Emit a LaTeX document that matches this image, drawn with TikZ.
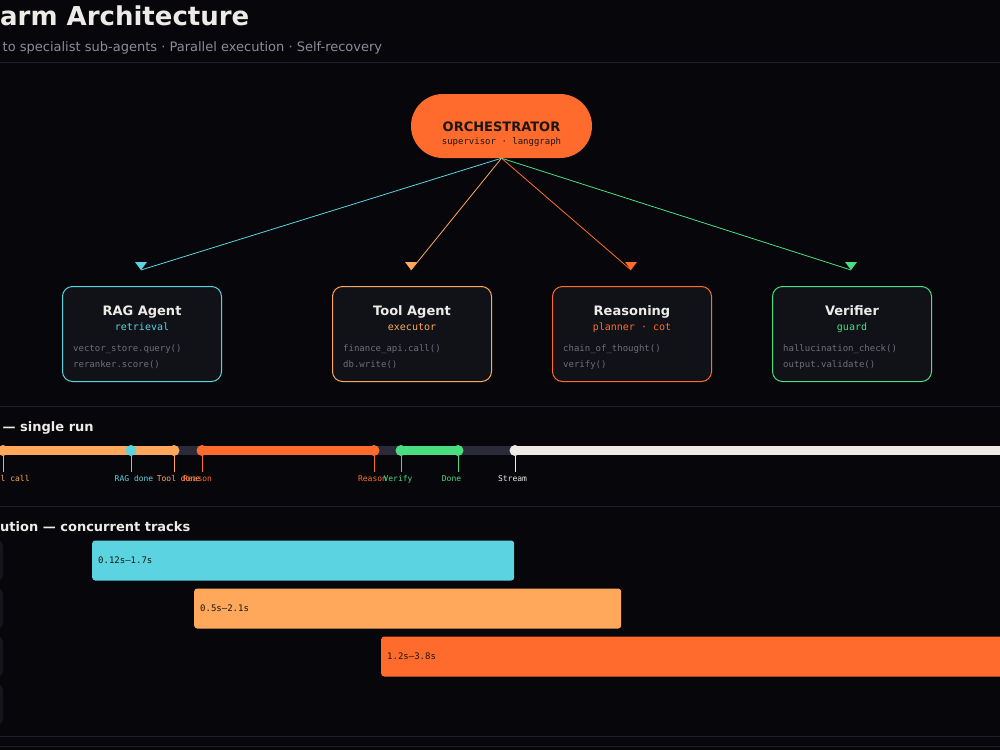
\documentclass[tikz,border=0pt]{standalone}
\usepackage{fontspec}
\setmainfont{DejaVu Sans}
\setmonofont{DejaVu Sans Mono}
\usetikzlibrary{positioning}
\definecolor{bgc}{HTML}{07070B}
\definecolor{sepc}{HTML}{1E1E2A}
\definecolor{titlec}{HTML}{EDEBE6}
\definecolor{subc}{HTML}{8B8B9B}
\definecolor{cyanc}{HTML}{5BD3E0}
\definecolor{peachc}{HTML}{FFA85C}
\definecolor{flamec}{HTML}{FF6B2C}
\definecolor{greenc}{HTML}{4ADE80}
\definecolor{whitec}{HTML}{EEEBE6}
\definecolor{boxc}{HTML}{111218}
\definecolor{codec}{HTML}{6E6E7C}
\definecolor{trackc}{HTML}{2A2A3A}
\definecolor{stubc}{HTML}{15151C}
\definecolor{inkc}{HTML}{1B1612}
\newcommand{\fsz}[1]{\fontsize{#1}{#1}\selectfont}
\tikzset{
	txt/.style={inner sep=0pt, anchor=base},
	headtitle/.style={txt, anchor=base west, text=titlec, font=\bfseries\fsz{26}},
	headsub/.style={txt, anchor=base west, text=subc, font=\fsz{13}},
	seclabel/.style={txt, anchor=base west, text=titlec, font=\bfseries\fsz{13}},
	sepline/.style={draw=sepc, line width=1pt},
	orch/.style={fill=flamec, rounded corners=32pt, minimum width=181pt, minimum height=64pt, inner sep=0pt},
	agent/.style={draw=#1, fill=boxc, line width=1pt, rounded corners=10pt,
		minimum width=159pt, minimum height=95pt, inner sep=0pt},
	agentname/.style={txt, text=titlec, font=\bfseries\fsz{13}},
	agentrole/.style={txt, text=#1, font=\ttfamily\fsz{10}},
	codeline/.style={txt, anchor=base west, text=codec, font=\ttfamily\fsz{9}},
	link/.style={draw=#1, line width=0.8pt},
	seg/.style={draw=#1, line width=9pt},
	dot/.style={circle, fill=#1, minimum size=11pt, inner sep=0pt},
	tick/.style={draw=#1, line width=1pt},
	ticklabel/.style={txt, text=#1, font=\ttfamily\fsz{8}},
	trackbar/.style={fill=#1, rounded corners=3pt, minimum height=40pt, inner sep=0pt, anchor=west},
	tracktime/.style={inner sep=0pt, text=inkc, font=\ttfamily\fsz{9}},
	stub/.style={fill=stubc, rounded corners=5pt}
}
\begin{document}
\begin{tikzpicture}[x=1pt,y=-1pt]
	\fill[bgc] (0,0) rectangle (1000,750);
	\useasboundingbox (0,0) rectangle (1000,750);
	\clip (0,0) rectangle (1000,750);
	% header
	\node[headtitle] (title) at (0,25) {arm Architecture};
	\node[headsub] (subtitle) at (2.5,51) {to specialist sub-agents · Parallel execution · Self-recovery};
	\draw[sepline] (0,62.5) -- (1000,62.5);
	% orchestrator
	\node[orch] (orch) at (501.5,126) {};
	\node[txt, text=inkc, font=\bfseries\fsz{13}] (orchname) at (501.5,131) {ORCHESTRATOR};
	\node[txt, text=inkc, font=\ttfamily\fsz{9}] (orchrole) at (501.5,144) {supervisor · langgraph};
	% agents
	\node[agent=cyanc] (rag) at (142,334) {};
	\node[agentname] (ragname) at (142,315) {RAG Agent};
	\node[agentrole=cyanc] (ragrole) at (142,330) {retrieval};
	\node[codeline] (ragA) at (73,351) {vector\_store.query()};
	\node[codeline] (ragB) at (73,367) {reranker.score()};
	\node[agent=peachc] (tool) at (412,334) {};
	\node[agentname] (toolname) at (412,315) {Tool Agent};
	\node[agentrole=peachc] (toolrole) at (412,330) {executor};
	\node[codeline] (toolA) at (343,351) {finance\_api.call()};
	\node[codeline] (toolB) at (343,367) {db.write()};
	\node[agent=flamec] (reason) at (632,334) {};
	\node[agentname] (reasonname) at (632,315) {Reasoning};
	\node[agentrole=flamec] (reasonrole) at (632,330) {planner · cot};
	\node[codeline] (reasonA) at (563,351) {chain\_of\_thought()};
	\node[codeline] (reasonB) at (563,367) {verify()};
	\node[agent=greenc] (verif) at (852,334) {};
	\node[agentname] (verifname) at (852,315) {Verifier};
	\node[agentrole=greenc] (verifrole) at (852,330) {guard};
	\node[codeline] (verifA) at (783,351) {hallucination\_check()};
	\node[codeline] (verifB) at (783,367) {output.validate()};
	% dispatch links
	\coordinate (ragtip) at (141,270);
	\coordinate (tooltip) at (411,270);
	\coordinate (reasontip) at (631,270);
	\coordinate (veriftip) at (851,270);
	\path[link=cyanc] (orch.south) -- (ragtip);
	\path[link=peachc] (orch.south) -- (tooltip);
	\path[link=flamec] (orch.south) -- (reasontip);
	\path[link=greenc] (orch.south) -- (veriftip);
	\foreach \t/\c in {ragtip/cyanc,tooltip/peachc,reasontip/flamec,veriftip/greenc}
		\fill[\c] (\t) -- ++(-6,-8) -- ++(12,0) -- cycle;
	\draw[sepline] (0,406.5) -- (1000,406.5);
	% timeline
	\node[seclabel] (runlabel) at (2.5,431) {— single run};
	\coordinate (tlL) at (-10,450.5);
	\coordinate (tlR) at (1010,450.5);
	\foreach \x [count=\i] in {3,131,174,202,374,401,458,515}
		\coordinate (c\i) at (\x,450.5);
	\draw[seg=trackc] (tlL) -- (tlR);
	\draw[seg=peachc] (tlL) -- (c3);
	\draw[seg=flamec] (c4) -- (c5);
	\draw[seg=greenc] (c6) -- (c7);
	\draw[seg=whitec] (c8) -- (tlR);
	\foreach \x/\c [count=\i] in {3/peachc,131/cyanc,174/peachc,202/flamec,374/flamec,401/greenc,458/greenc,515/whitec}{
		\node[dot=\c] (d\i) at (c\i) {};
		\coordinate (t\i) at (\x,472);
		\draw[tick=\c] (d\i) -- (t\i);
	}
	\node[ticklabel=peachc, anchor=base west] (l1) at (0.5,481) {l call};
	\node[ticklabel=cyanc] (l2) at (134,481) {RAG done};
	\node[ticklabel=peachc] (l3) at (178.5,481) {Tool done};
	\node[ticklabel=flamec] (l4) at (197.5,481) {Reason};
	\node[ticklabel=flamec] (l5) at (372.5,481) {Reason};
	\node[ticklabel=greenc] (l6) at (398,481) {Verify};
	\node[ticklabel=greenc] (l7) at (451.5,481) {Done};
	\node[ticklabel=whitec] (l8) at (512.5,481) {Stream};
	\draw[sepline] (0,506.5) -- (1000,506.5);
	% concurrent tracks
	\node[seclabel] (tracklabel) at (0,531) {ution — concurrent tracks};
	\foreach \y in {540.5,588.5,636.5,684.5}
		\fill[stub] (-40,\y) rectangle (3,\y+40);
	\node[trackbar=cyanc, minimum width=422pt] (ragbar) at (92,560.5) {};
	\node[tracktime, right=6pt of ragbar.west] (ragtime) {0.12s—1.7s};
	\node[trackbar=peachc, minimum width=427pt] (toolbar) at (194,608.5) {};
	\node[tracktime, right=6pt of toolbar.west] (tooltime) {0.5s—2.1s};
	\node[trackbar=flamec, minimum width=640pt] (reasonbar) at (381,656.5) {};
	\node[tracktime, right=6pt of reasonbar.west] (reasontime) {1.2s—3.8s};
	\draw[sepline] (0,736) -- (1000,736);
	\draw[sepline] (0,746.5) -- (1000,746.5);
\end{tikzpicture}
\end{document}
